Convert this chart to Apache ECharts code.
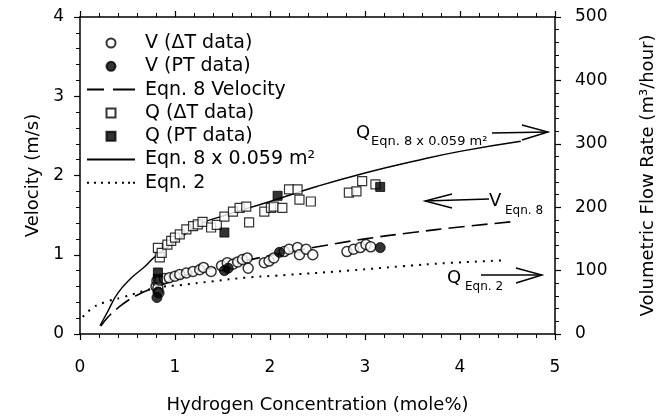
<!doctype html>
<html lang="en">
<head>
    <meta charset="UTF-8" />
    <title>Velocity and flow rate vs hydrogen concentration</title>
    <script src="https://cdn.jsdelivr.net/npm/echarts@6/dist/echarts.min.js"></script>
    <style>
        html, body { margin: 0; padding: 0; background: #fff; }
        #chart { width: 665px; height: 419px; }
    </style>
</head>
<body>
    <div id="chart"></div>
    <script>
        // data: [H2 mole%, value]
        var vDeltaT = [
            [0.80, 0.60], [0.81, 0.67], [0.82, 0.58], [0.83, 0.52], [0.84, 0.68], [0.89, 0.70],
            [0.94, 0.71], [1.00, 0.73], [1.05, 0.75], [1.12, 0.77], [1.19, 0.79], [1.26, 0.81],
            [1.30, 0.84], [1.38, 0.79], [1.49, 0.86], [1.55, 0.90], [1.61, 0.88], [1.66, 0.91],
            [1.71, 0.94], [1.76, 0.96], [1.77, 0.83], [1.94, 0.90], [1.99, 0.92], [2.04, 0.96],
            [2.15, 1.04], [2.20, 1.07], [2.29, 1.09], [2.31, 1.00], [2.38, 1.07], [2.45, 1.00],
            [2.81, 1.04], [2.88, 1.07], [2.95, 1.09], [3.01, 1.13], [3.06, 1.10]
        ];
        var vPT = [[0.81, 0.46], [0.82, 0.53], [1.52, 0.80], [1.56, 0.83], [2.10, 1.03], [3.16, 1.09]];
        var qDeltaT = [
            [0.82, 136], [0.84, 121], [0.86, 128], [0.92, 141], [0.96, 147], [1.00, 152],
            [1.05, 157], [1.12, 165], [1.19, 170], [1.24, 173], [1.29, 177], [1.38, 168],
            [1.44, 172], [1.52, 185], [1.61, 193], [1.68, 199], [1.75, 201], [1.78, 176],
            [1.94, 193], [2.01, 199], [2.04, 201], [2.13, 199], [2.20, 228], [2.29, 228],
            [2.31, 212], [2.43, 209], [2.83, 223], [2.91, 225], [2.97, 241], [3.11, 236]
        ];
        var qPT = [[0.82, 97], [0.82, 87], [1.52, 160], [2.08, 218], [3.16, 232]];
        var eqn8Velocity = [
            [0.22, 0.10], [0.30, 0.22], [0.40, 0.33], [0.50, 0.42], [0.60, 0.49], [0.73, 0.56],
            [1.00, 0.68], [1.25, 0.79], [1.50, 0.86], [2.00, 0.99], [2.50, 1.10], [3.00, 1.20],
            [3.50, 1.28], [4.00, 1.35], [4.58, 1.42]
        ];
        var eqn8Flow = [
            [0.21, 13], [0.29, 35], [0.40, 65], [0.545, 89], [0.68, 106], [0.79, 122],
            [1.00, 145], [1.26, 173], [1.50, 186], [2.00, 209], [2.50, 233], [3.00, 254],
            [3.50, 272], [4.00, 288], [4.64, 304]
        ];
        var eqn2Flow = [
            [0.03, 27], [0.14, 42], [0.26, 50], [0.45, 58], [0.81, 73], [1.05, 77],
            [1.39, 83], [1.75, 89], [2.06, 92], [2.83, 100], [3.40, 107], [3.88, 112], [4.45, 116]
        ];
        var legendNames = [
            'V (\u0394T data)', 'V (PT data)', 'Eqn. 8 Velocity', 'Q (\u0394T data)',
            'Q (PT data)', 'Eqn. 8 x 0.059 m\u00b2', 'Eqn. 2'
        ];

        var FONT = 'DejaVu Sans';
        var chart = echarts.init(document.getElementById('chart'));

        // legend icons (drawn with aspect kept, 48 px wide)
        var ICON_CIRCLE = 'circle';
        var ICON_SQUARE = 'path://M0,0h10v10h-10z';
        var ICON_SOLID = 'path://M0,0h48v2h-48z';
        var ICON_DASHED = 'path://M0,0h17v2h-17z M26,0h22v2h-22z';
        var ICON_DOTTED = 'path://M0,0h2v2h-2z M7,0h2v2h-2z M14,0h2v2h-2z M21,0h2v2h-2z M28,0h2v2h-2z M35,0h2v2h-2z M41,0h2v2h-2z M46,0h2v2h-2z';

        function axisBase() {
            return {
                type: 'value',
                axisLine: { show: true, onZero: false, lineStyle: { color: '#000', width: 1.5 } },
                axisTick: { show: true, inside: false, length: 6, lineStyle: { color: '#000', width: 1.2 } },
                minorTick: { show: true, splitNumber: 5, length: 4, lineStyle: { color: '#000', width: 1 } },
                splitLine: { show: false },
                minorSplitLine: { show: false },
                axisLabel: { color: '#000', fontFamily: FONT, fontSize: 17 },
                nameTextStyle: { color: '#000', fontFamily: FONT, fontSize: 18 }
            };
        }

        var xBottom = Object.assign(axisBase(), {
            min: 0, max: 5, interval: 1, position: 'bottom',
            name: 'Hydrogen Concentration (mole%)', nameLocation: 'middle', nameGap: 62
        });
        xBottom.axisLabel.margin = 25;
        var xTop = Object.assign(axisBase(), { min: 0, max: 5, interval: 1, position: 'top' });
        xTop.axisLabel = { show: false };

        var yLeft = Object.assign(axisBase(), {
            min: 0, max: 4, interval: 1, position: 'left',
            name: 'Velocity (m/s)', nameLocation: 'middle', nameGap: 38, nameRotate: 90
        });
        yLeft.axisLabel.margin = 16;
        var yRight = Object.assign(axisBase(), {
            min: 0, max: 500, interval: 100, position: 'right',
            name: 'Volumetric Flow Rate (m\u00b3/hour)', nameLocation: 'middle', nameGap: 84, nameRotate: 90
        });
        yRight.axisLabel.margin = 20;

        var openCircle = { color: '#fff', borderColor: '#000', borderWidth: 1.5 };
        var openSquare = { color: '#fff', borderColor: '#000', borderWidth: 1.2 };
        var fillStyle = { color: '#000', borderColor: '#000', borderWidth: 1 };

        var icons = [ICON_CIRCLE, ICON_CIRCLE, ICON_DASHED, ICON_SQUARE, ICON_SQUARE, ICON_SOLID, ICON_DOTTED];

        var option = {
            animation: false,
            backgroundColor: '#fff',
            textStyle: { fontFamily: FONT },
            grid: { left: 80, right: 106, top: 17, bottom: 83 },
            legend: {
                data: legendNames.map(function (n, i) { return { name: n, icon: icons[i] }; }),
                orient: 'vertical',
                left: 82,
                top: 28.5,
                itemWidth: 48,
                itemHeight: 9,
                itemGap: 4.3,
                textStyle: { color: '#000', fontFamily: FONT, fontSize: 19, padding: [0, 0, 0, 5] },
                selectedMode: false
            },
            xAxis: [xBottom, xTop],
            yAxis: [yLeft, yRight],
            series: [
                { name: legendNames[0], type: 'scatter', data: vDeltaT, symbol: 'circle', symbolSize: 10, itemStyle: openCircle, z: 3 },
                { name: legendNames[1], type: 'scatter', data: vPT, symbol: 'circle', symbolSize: 10, itemStyle: fillStyle, z: 4 },
                {
                    name: legendNames[2], type: 'line', data: eqn8Velocity, smooth: true, showSymbol: false, symbol: 'none',
                    lineStyle: { color: '#000', width: 1.6, type: [16, 7] }, itemStyle: { color: '#000' }, z: 2
                },
                { name: legendNames[3], type: 'scatter', yAxisIndex: 1, data: qDeltaT, symbol: 'rect', symbolSize: 9, itemStyle: openSquare, z: 3 },
                { name: legendNames[4], type: 'scatter', yAxisIndex: 1, data: qPT, symbol: 'rect', symbolSize: 9, itemStyle: fillStyle, z: 4 },
                {
                    name: legendNames[5], type: 'line', yAxisIndex: 1, data: eqn8Flow, smooth: true, showSymbol: false, symbol: 'none',
                    lineStyle: { color: '#000', width: 1.4 }, itemStyle: { color: '#000' }, z: 2
                },
                {
                    name: legendNames[6], type: 'line', yAxisIndex: 1, data: eqn2Flow, smooth: true, showSymbol: false, symbol: 'none',
                    lineStyle: { color: '#000', width: 2, type: [2, 6] }, itemStyle: { color: '#000' }, z: 2
                }
            ],
            graphic: [
                // Q Eqn. 8 x 0.059 m2 ->
                { type: 'text', left: 356, top: 124, style: { text: 'Q', font: '18px ' + FONT, fill: '#000' } },
                { type: 'text', left: 371, top: 135, style: { text: 'Eqn. 8 x 0.059 m\u00b2', font: '13px ' + FONT, fill: '#000' } },
                { type: 'polyline', shape: { points: [[492, 133], [548, 132]] }, style: { stroke: '#000', lineWidth: 1.4 } },
                { type: 'polyline', shape: { points: [[522, 125], [548, 132], [522, 140]] }, style: { stroke: '#000', lineWidth: 1.4, fill: null } },
                // <- V Eqn. 8
                { type: 'text', left: 489, top: 192, style: { text: 'V', font: '18px ' + FONT, fill: '#000' } },
                { type: 'text', left: 505, top: 205, style: { text: 'Eqn. 8', font: '12px ' + FONT, fill: '#000' } },
                { type: 'polyline', shape: { points: [[425, 201], [489, 199]] }, style: { stroke: '#000', lineWidth: 1.4 } },
                { type: 'polyline', shape: { points: [[452, 194], [425, 201], [452, 208]] }, style: { stroke: '#000', lineWidth: 1.4, fill: null } },
                // Q Eqn. 2 ->
                { type: 'text', left: 447, top: 269, style: { text: 'Q', font: '18px ' + FONT, fill: '#000' } },
                { type: 'text', left: 465, top: 281, style: { text: 'Eqn. 2', font: '12px ' + FONT, fill: '#000' } },
                { type: 'polyline', shape: { points: [[481, 275], [542, 275]] }, style: { stroke: '#000', lineWidth: 1.4 } },
                { type: 'polyline', shape: { points: [[516, 268], [542, 275], [516, 283]] }, style: { stroke: '#000', lineWidth: 1.4, fill: null } }
            ]
        };

        chart.setOption(option);
    </script>
</body>
</html>
